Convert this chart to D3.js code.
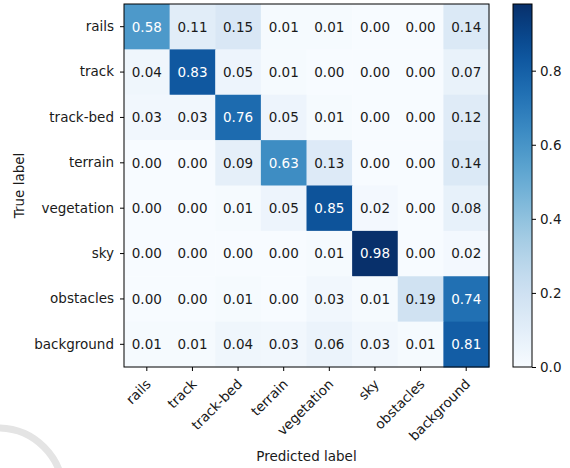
<!DOCTYPE html>
<html>
<head>
<meta charset="utf-8">
<script src="https://cdn.jsdelivr.net/npm/d3@7"></script>
<style>
  body { margin: 0; background: #fff; }
  text { font-family: "DejaVu Sans", sans-serif; }
</style>
</head>
<body>
<script>
var width = 570,
    height = 468;

// class names
var classes = ['rails', 'track', 'track-bed', 'terrain', 'vegetation', 'sky', 'obstacles', 'background'];

// normalised confusion matrix, one row per true label
var rails      = [0.58, 0.11, 0.15, 0.01, 0.01, 0.00, 0.00, 0.14];
var track      = [0.04, 0.83, 0.05, 0.01, 0.00, 0.00, 0.00, 0.07];
var trackBed   = [0.03, 0.03, 0.76, 0.05, 0.01, 0.00, 0.00, 0.12];
var terrain    = [0.00, 0.00, 0.09, 0.63, 0.13, 0.00, 0.00, 0.14];
var vegetation = [0.00, 0.00, 0.01, 0.05, 0.85, 0.02, 0.00, 0.08];
var sky        = [0.00, 0.00, 0.00, 0.00, 0.01, 0.98, 0.00, 0.02];
var obstacles  = [0.00, 0.00, 0.01, 0.00, 0.03, 0.01, 0.19, 0.74];
var background = [0.01, 0.01, 0.04, 0.03, 0.06, 0.03, 0.01, 0.81];
var matrix = [rails, track, trackBed, terrain, vegetation, sky, obstacles, background];

var colorbarTicks = [0.0, 0.2, 0.4, 0.6, 0.8];

var vmax = d3.max(matrix, function(r) { return d3.max(r); });

var x0 = 124, y0 = 4, x1 = 489, y1 = 367;

var svg = d3.select('body').append('svg')
    .attr('width', width)
    .attr('height', height);

// faint watermark arc in the corner
svg.append('circle')
    .attr('cx', -2).attr('cy', 493).attr('r', 65)
    .attr('fill', 'none')
    .attr('stroke', '#e4e4e4')
    .attr('stroke-width', 7);

var x = d3.scaleBand().domain(classes).range([x0, x1]);
var y = d3.scaleBand().domain(classes).range([y0, y1]);
var color = d3.scaleSequential(d3.interpolateBlues).domain([0, vmax]);

var cells = [];
matrix.forEach(function(row, i) {
  row.forEach(function(v, j) {
    cells.push({t: classes[i], p: classes[j], v: v});
  });
});

var g = svg.append('g');
g.selectAll('rect.cell')
    .data(cells)
    .enter().append('rect')
    .attr('class', 'cell')
    .attr('x', function(d) { return x(d.p); })
    .attr('y', function(d) { return y(d.t); })
    .attr('width', x.bandwidth() + 0.5)
    .attr('height', y.bandwidth() + 0.5)
    .attr('fill', function(d) { return color(d.v); });

g.selectAll('text.val')
    .data(cells)
    .enter().append('text')
    .attr('class', 'val')
    .attr('x', function(d) { return x(d.p) + x.bandwidth() / 2; })
    .attr('y', function(d) { return y(d.t) + y.bandwidth() / 2; })
    .attr('dy', '0.36em')
    .attr('text-anchor', 'middle')
    .style('font-size', '13.5px')
    .attr('fill', function(d) { return d.v > vmax / 2 ? 'white' : '#1a1a1a'; })
    .text(function(d) { return d.v.toFixed(2); });

g.append('rect')
    .attr('x', x0).attr('y', y0)
    .attr('width', x1 - x0).attr('height', y1 - y0)
    .attr('fill', 'none').attr('stroke', '#000').attr('stroke-width', 1);

// y axis
var yAxis = svg.append('g')
    .attr('transform', 'translate(' + x0 + ',0)')
    .call(d3.axisLeft(y).tickSize(4).tickPadding(6));
yAxis.select('.domain').remove();
yAxis.selectAll('text').style('font-size', '13.5px').attr('fill', '#1a1a1a');

// x axis
var xAxis = svg.append('g')
    .attr('transform', 'translate(0,' + y1 + ')')
    .call(d3.axisBottom(x).tickSize(4));
xAxis.select('.domain').remove();
xAxis.selectAll('text')
    .style('font-size', '13.5px')
    .attr('fill', '#1a1a1a')
    .attr('text-anchor', 'end')
    .attr('dy', null)
    .attr('y', null)
    .attr('transform', 'translate(5,18) rotate(-45)');

svg.append('text')
    .attr('transform', 'translate(24,' + (y0 + y1) / 2 + ') rotate(-90)')
    .attr('text-anchor', 'middle')
    .style('font-size', '13.5px')
    .attr('fill', '#1a1a1a')
    .text('True label');

svg.append('text')
    .attr('x', (x0 + x1) / 2)
    .attr('y', 461)
    .attr('text-anchor', 'middle')
    .style('font-size', '13.5px')
    .attr('fill', '#1a1a1a')
    .text('Predicted label');

// colorbar
var cbX = 513, cbW = 19;
var cy = d3.scaleLinear().domain([0, vmax]).range([y1, y0]);
var defs = svg.append('defs');
var grad = defs.append('linearGradient')
    .attr('id', 'cb')
    .attr('x1', 0).attr('y1', 1).attr('x2', 0).attr('y2', 0);
d3.range(0, 1.0001, 0.05).forEach(function(t) {
  grad.append('stop')
      .attr('offset', t)
      .attr('stop-color', d3.interpolateBlues(t));
});
svg.append('rect')
    .attr('x', cbX).attr('y', y0)
    .attr('width', cbW).attr('height', y1 - y0)
    .attr('fill', 'url(#cb)')
    .attr('stroke', '#000').attr('stroke-width', 1);

var cAxis = svg.append('g')
    .attr('transform', 'translate(' + (cbX + cbW) + ',0)')
    .call(d3.axisRight(cy).tickValues(colorbarTicks).tickFormat(d3.format('.1f')).tickSize(4).tickPadding(4));
cAxis.select('.domain').remove();
cAxis.selectAll('text').style('font-size', '13.5px').attr('fill', '#1a1a1a');
</script>
</body>
</html>
